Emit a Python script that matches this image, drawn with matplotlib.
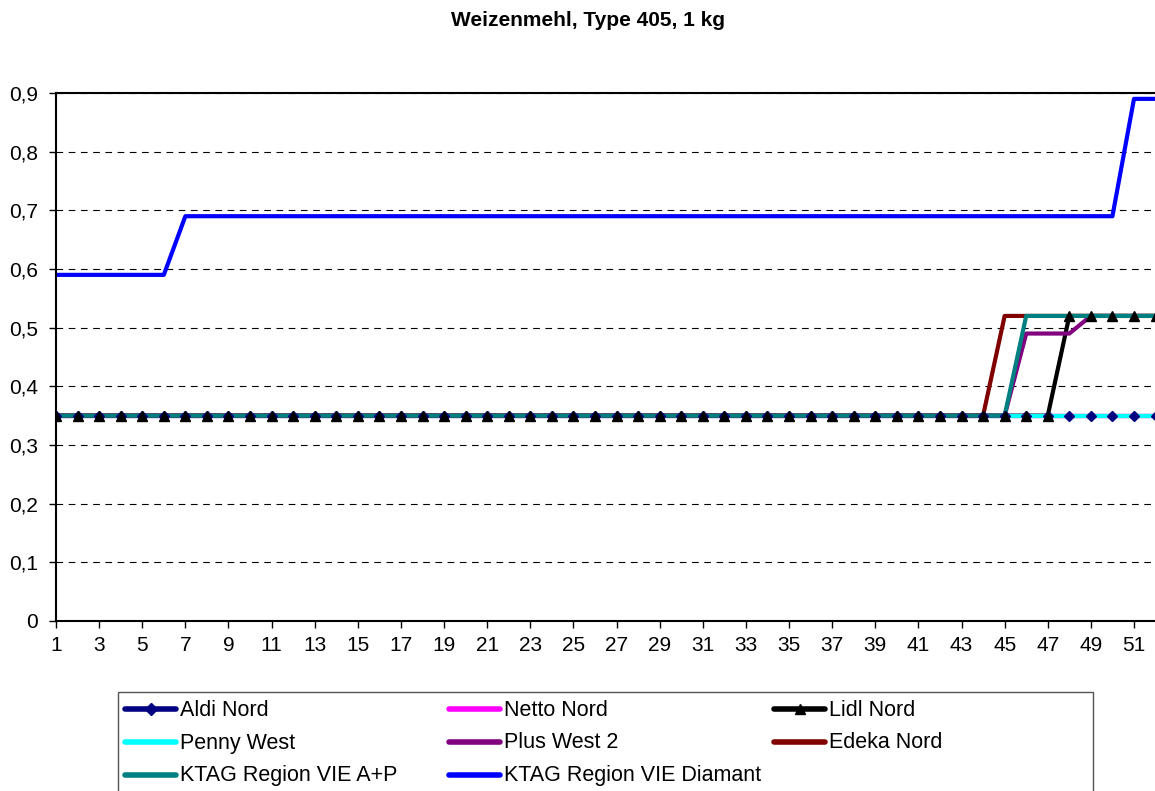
import matplotlib
matplotlib.use("Agg")
import matplotlib.pyplot as plt
from matplotlib.ticker import FuncFormatter

plt.rcParams['font.family'] = ['Liberation Sans', 'DejaVu Sans']

weeks = list(range(1, 53))

aldi_nord = [0.35] * 52
netto_nord = [0.35] * 52
lidl_nord = [0.35] * 47 + [0.52] * 5
penny_west = [0.35] * 52
plus_west2 = [0.35] * 45 + [0.49] * 3 + [0.52] * 4
edeka_nord = [0.35] * 44 + [0.52] * 8
ktag_ap = [0.35] * 45 + [0.52] * 7
ktag_diamant = [0.59] * 6 + [0.69] * 44 + [0.89] * 2

names = ['Aldi Nord', 'Netto Nord', 'Lidl Nord', 'Penny West', 'Plus West 2',
         'Edeka Nord', 'KTAG Region VIE A+P', 'KTAG Region VIE Diamant']
colors = ['#000080', '#FF00FF', 'black', '#00FFFF', '#800080',
          '#800000', '#008080', '#0000FF']
markers = ['D', None, '^', None, None, None, None, None]
series = [aldi_nord, netto_nord, lidl_nord, penny_west, plus_west2,
          edeka_nord, ktag_ap, ktag_diamant]

W, H = 1155, 791
fig = plt.figure(figsize=(W / 100, H / 100), dpi=100)
x0, x_unit = 56, (1134 - 56) / 50
ax = fig.add_axes([x0 / W, (H - 621) / H, 52 * x_unit / W, (621 - 93) / H])

lw = 3
for vals, c in zip(series, colors):
    ax.plot(weeks, vals, color=c, lw=lw, zorder=2)
ax.plot(weeks, aldi_nord, ls='none', marker='D', ms=5, color='#000080', zorder=3)
ax.plot(weeks, lidl_nord, ls='none', marker='^', ms=7, color='black', zorder=4)

ax.set_xlim(1, 53)
ax.set_ylim(0, 0.9)
ax.set_yticks([i / 10 for i in range(10)])
ax.yaxis.set_major_formatter(FuncFormatter(lambda v, p: '0' if v == 0 else f'{v:.1f}'.replace('.', ',')))
ax.set_xticks(weeks[::2])
ax.tick_params(labelsize=15, length=5, width=1, direction='out')
ax.tick_params(axis='y', pad=8)
ax.tick_params(axis='x', pad=6)
ax.grid(axis='y', color='black', ls=(0, (6, 5)), lw=0.8)
for s in ax.spines.values():
    s.set_linewidth(1.5)

fig.text(588 / W, 1 - 20 / H, 'Weizenmehl, Type 405, 1 kg', ha='center', va='center',
         fontsize=15, fontweight='bold')

# legend drawn by hand (3 columns, row-major like the original)
lax = fig.add_axes([0, 0, 1, 1], facecolor='none')
lax.set_xlim(0, W)
lax.set_ylim(H, 0)
lax.axis('off')
lax.add_patch(plt.Rectangle((118, 692), 1093 - 118, 120, fill=False,
                            edgecolor='#555555', lw=1, clip_on=False))
col_x = [125, 449, 774]
row_y = [709, 742, 775]
for i, (n, c, m) in enumerate(zip(names, colors, markers)):
    hx = col_x[i % 3]
    hy = row_y[i // 3]
    lax.plot([hx, hx + 51], [hy, hy], color=c, lw=4, solid_capstyle='round')
    if m:
        lax.plot([hx + 25.5], [hy], marker=m, ms=6 if m == 'D' else 7, color=c, ls='none')
    lax.text(hx + 55, hy + 1, n, fontsize=15.5, va='center', ha='left')

fig.savefig('out.png', dpi=100)
